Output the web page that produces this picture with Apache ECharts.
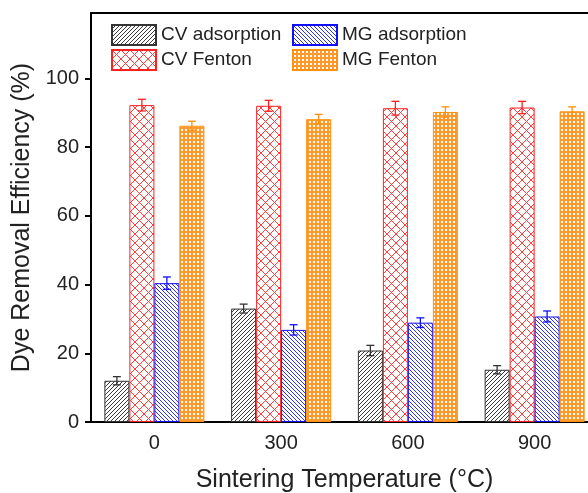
<!DOCTYPE html>
<html>
<head>
<meta charset="utf-8">
<script src="https://cdn.jsdelivr.net/npm/echarts@6/dist/echarts.min.js"></script>
<style>
html, body { margin: 0; padding: 0; background: #fff; }
#chart { width: 588px; height: 493px; }
</style>
</head>
<body>
<div id="chart"></div>
<script>
// sintering temperatures (°C)
const temps = ['0', '300', '600', '900']
// dye removal efficiency (%) and error
const cvAds = [12.0, 33.0, 20.8, 15.2]
const cvAdsErr = [1.2, 1.3, 1.5, 1.2]
const cvFen = [92.2, 92.0, 91.3, 91.5]
const cvFenErr = [1.7, 1.6, 2.0, 1.8]
const mgAds = [40.4, 26.8, 28.9, 30.7]
const mgAdsErr = [1.8, 1.5, 1.4, 1.6]
const mgFen = [86.2, 88.1, 90.2, 90.4]
const mgFenErr = [1.3, 1.4, 1.5, 1.3]
const yTicks = [0, 20, 40, 60, 80, 100]

const FONT = '"Liberation Sans", Arial, sans-serif'
const barW = 25

function makePattern(size, draw) {
  const c = document.createElement('canvas')
  c.width = c.height = size
  const ctx = c.getContext('2d')
  ctx.fillStyle = '#fff'
  ctx.fillRect(0, 0, size, size)
  draw(ctx, size)
  return { image: c, repeat: 'repeat' }
}

function hatch(ctx, s, color, dir) {
  ctx.strokeStyle = color
  ctx.lineWidth = 1
  ctx.beginPath()
  if (dir > 0) {
    ctx.moveTo(-1, s + 1); ctx.lineTo(s + 1, -1)
    ctx.moveTo(-1, 1); ctx.lineTo(1, -1)
    ctx.moveTo(s - 1, s + 1); ctx.lineTo(s + 1, s - 1)
  } else {
    ctx.moveTo(-1, -1); ctx.lineTo(s + 1, s + 1)
    ctx.moveTo(-1, s - 1); ctx.lineTo(1, s + 1)
    ctx.moveTo(s - 1, -1); ctx.lineTo(s + 1, 1)
  }
  ctx.stroke()
}

const cvAdsPat = makePattern(4, (ctx, s) => hatch(ctx, s, '#3a3a3a', 1))
const mgAdsPat = makePattern(4, (ctx, s) => hatch(ctx, s, '#3030ff', -1))
const cvFenPat = makePattern(9, (ctx, s) => {
  hatch(ctx, s, '#ff3b3b', 1)
  hatch(ctx, s, '#ff3b3b', -1)
})
const mgFenPat = makePattern(4, (ctx, s) => {
  ctx.fillStyle = '#ff9a2a'
  ctx.fillRect(0, 0, s, s)
  ctx.fillStyle = '#fff'
  ctx.fillRect(1, 1, 2, 2)
})

function barSeries(name, data, pattern, border) {
  return {
    name,
    type: 'bar',
    data,
    barWidth: barW,
    barGap: '0%',
    itemStyle: { color: pattern, borderColor: border, borderWidth: 1 },
  }
}

function errSeries(vals, errs, idx, color) {
  return {
    type: 'custom',
    z: 5,
    silent: true,
    data: vals.map((v, i) => [i, v, errs[i]]),
    renderItem(params, api) {
      const c = api.value(0)
      const v = api.value(1)
      const e = api.value(2)
      const top = api.coord([c, v + e])
      const bot = api.coord([c, v - e])
      const x = top[0] + (idx - 1.5) * barW
      const hw = 4
      const style = { stroke: color, lineWidth: 1.3 }
      return {
        type: 'group',
        children: [
          { type: 'line', shape: { x1: x, y1: top[1], x2: x, y2: bot[1] }, style },
          { type: 'line', shape: { x1: x - hw, y1: top[1], x2: x + hw, y2: top[1] }, style },
          { type: 'line', shape: { x1: x - hw, y1: bot[1], x2: x + hw, y2: bot[1] }, style },
        ],
      }
    },
  }
}

const legendCommon = {
  orient: 'vertical',
  top: 24,
  padding: 0,
  itemWidth: 44,
  itemHeight: 20,
  itemGap: 3,
  icon: 'rect',
  textStyle: { fontFamily: FONT, fontSize: 19, color: '#222' },
}

const myChart = echarts.init(document.getElementById('chart'))
myChart.setOption({
  animation: false,
  textStyle: { fontFamily: FONT },
  grid: { left: 91, top: 13, bottom: 71, width: 507, outerBoundsMode: 'none', containLabel: false },
  legend: [
    { ...legendCommon, left: 111, data: ['CV adsorption', 'CV Fenton'] },
    { ...legendCommon, left: 292, data: ['MG adsorption', 'MG Fenton'] },
  ],
  xAxis: [
    {
      type: 'category',
      data: temps,
      name: 'Sintering Temperature (°C)',
      nameLocation: 'middle',
      nameGap: 46,
      nameTextStyle: { fontFamily: FONT, fontSize: 25, color: '#222' },
      axisLine: { lineStyle: { color: '#000', width: 2 } },
      axisTick: { inside: true, alignWithLabel: true, length: 6, lineStyle: { width: 2 } },
      axisLabel: { fontFamily: FONT, fontSize: 20, color: '#222', margin: 11 },
    },
    {
      type: 'category',
      data: temps,
      position: 'top',
      axisLine: { lineStyle: { color: '#000', width: 2 } },
      axisTick: { inside: true, alignWithLabel: true, length: 6, lineStyle: { width: 2 } },
      axisLabel: { show: false },
    },
  ],
  yAxis: {
    type: 'value',
    min: 0,
    max: 119,
    interval: 20,
    name: 'Dye Removal Efficiency (%)',
    nameLocation: 'middle',
    nameGap: 43,
    nameTextStyle: { fontFamily: FONT, fontSize: 25, color: '#222' },
    axisLine: { show: true, lineStyle: { color: '#000', width: 2 } },
    axisTick: { show: true, length: 6, customValues: yTicks, lineStyle: { width: 2 } },
    axisLabel: { fontFamily: FONT, fontSize: 20, color: '#222', margin: 12, customValues: yTicks },
    splitLine: { show: false },
  },
  series: [
    barSeries('CV adsorption', cvAds, cvAdsPat, '#333'),
    barSeries('CV Fenton', cvFen, cvFenPat, '#ff2020'),
    barSeries('MG adsorption', mgAds, mgAdsPat, '#1010ff'),
    barSeries('MG Fenton', mgFen, mgFenPat, '#ff9010'),
    errSeries(cvAds, cvAdsErr, 0, '#333'),
    errSeries(cvFen, cvFenErr, 1, '#ff2020'),
    errSeries(mgAds, mgAdsErr, 2, '#1010ff'),
    errSeries(mgFen, mgFenErr, 3, '#ff9010'),
  ],
})
</script>
</body>
</html>
